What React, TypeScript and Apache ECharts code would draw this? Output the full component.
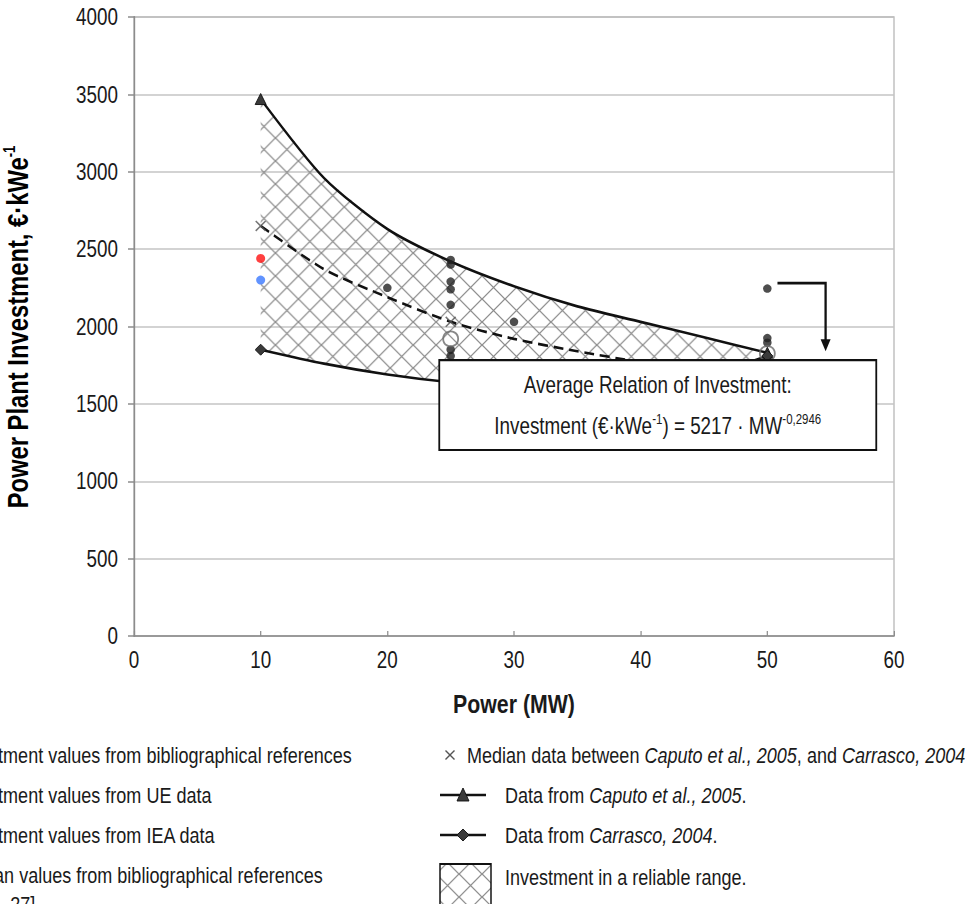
import { useEffect, useRef } from "react";
import * as echarts from "echarts";

// Text is set in Liberation Sans and the drawing is compressed horizontally so
// that it reads like a narrow grotesque; layout is done in the wider space.
const PAGE_W = 978;
const PAGE_H = 904;
const VIRTUAL_W = 1193;
const K = PAGE_W / VIRTUAL_W;
const V = (x: number) => x / K;

const FONT = "'Liberation Sans', Arial, sans-serif";
const INK = "#1a1a1a";

// Axis ranges
const powerMin = 0;
const powerMax = 60;
const powerStep = 10;
const investMin = 0;
const investMax = 4000;
const investStep = 500;

// Boundaries of the reliable range and the median trend (€·kWe-1 against MW)
const powerSteps = [10, 15, 20, 25, 30, 35, 40, 45, 50];
const caputoInvestment = [3470, 2960, 2630, 2420, 2260, 2130, 2030, 1930, 1830];
const carrascoInvestment = [1850, 1760, 1690, 1640, 1610, 1600, 1620, 1680, 1810];
const medianCurveInvestment = [2650, 2370, 2190, 2030, 1920, 1840, 1770, 1710, 1650];

// Median data between Caputo and Carrasco
const medianPower = [10, 25, 50];
const medianInvestment = [2650, 2030, 1650];

// Investment values from bibliographical references
const bibPower = [20, 25, 25, 25, 25, 25, 25, 25, 30, 50, 50, 50];
const bibInvestment = [2250, 2430, 2400, 2290, 2240, 2140, 1850, 1810, 2030, 2245, 1925, 1895];

// UE and IEA values
const uePower = [10];
const ueInvestment = [2440];
const ieaPower = [10];
const ieaInvestment = [2300];

// Median values from bibliographical references
const meanPower = [25, 50];
const meanInvestment = [1920, 1825];

const leftLegendLabels = [
  "Investment values from bibliographical references",
  "Investment values from UE data",
  "Investment values from IEA data",
  "Median values from bibliographical references",
];
const leftLegendTail = "[7, 14, 27]";

const TILE_W = 28;
const TILE_H = 23;
const hatchTile = `<svg xmlns="http://www.w3.org/2000/svg" width="${TILE_W}" height="${TILE_H}"><path d="M-1 -1L${TILE_W + 1} ${TILE_H + 1}M${TILE_W + 1} -1L-1 ${TILE_H + 1}" stroke="#8c8c8c" stroke-width="1.3" fill="none"/></svg>`;
const hatchFill = {
  image: "data:image/svg+xml;charset=utf-8," + encodeURIComponent(hatchTile),
  repeat: "repeat",
  imageWidth: TILE_W,
  imageHeight: TILE_H,
};

const pairs = (xs: number[], ys: number[]) => xs.map((x, i) => [x, ys[i]]);
const sym = (s: number) => [V(s), s];

const crossSymbol =
  "path://M1,0 L5,4 L9,0 L10,1 L6,5 L10,9 L9,10 L5,6 L1,10 L0,9 L4,5 L0,1 Z";

function buildOption() {
  const last = powerSteps.length - 1;
  return {
    animation: false,
    backgroundColor: "#ffffff",
    textStyle: { fontFamily: FONT },
    grid: {
      left: V(134),
      right: V(84),
      top: 17,
      bottom: PAGE_H - 636,
      show: true,
      borderColor: "#a8a8a8",
      borderWidth: 1.3,
    },
    xAxis: {
      type: "value",
      min: powerMin,
      max: powerMax,
      interval: powerStep,
      name: "Power (MW)",
      nameLocation: "middle",
      nameGap: 55,
      nameTextStyle: { fontFamily: FONT, fontSize: 26, fontWeight: "bold", color: INK },
      axisLine: { show: true, onZero: false, lineStyle: { color: "#8c8c8c", width: 1.5 } },
      axisTick: { show: true, inside: true, length: 5, lineStyle: { color: "#8c8c8c", width: 1.5 } },
      axisLabel: { fontFamily: FONT, fontSize: 23, color: INK, margin: 12 },
      splitLine: { show: false },
    },
    yAxis: {
      type: "value",
      min: investMin,
      max: investMax,
      interval: investStep,
      axisLine: { show: true, lineStyle: { color: "#8c8c8c", width: 1.8 } },
      axisTick: { show: true, inside: false, length: V(6), lineStyle: { color: "#8c8c8c", width: 1.5 } },
      axisLabel: {
        fontFamily: FONT,
        fontSize: 23,
        color: INK,
        margin: V(16),
        formatter: (v: number) => String(v),
      },
      splitLine: { show: true, lineStyle: { color: "#c4c4c4", width: 1.5 } },
    },
    series: [
      {
        type: "custom",
        name: "Investment in a reliable range.",
        z: 1,
        silent: true,
        data: powerSteps.map((x, i) => [x, carrascoInvestment[i], caputoInvestment[i]]),
        encode: { x: 0, y: [1, 2] },
        renderItem: (params: any, api: any) => {
          if (params.dataIndex !== 0) return null;
          const top = powerSteps.map((x, i) => api.coord([x, caputoInvestment[i]]));
          const bottom = powerSteps.map((x, i) => api.coord([x, carrascoInvestment[i]])).reverse();
          return {
            type: "polygon",
            shape: { points: top.concat(bottom) },
            style: { fill: hatchFill, stroke: null },
          };
        },
      },
      {
        type: "line",
        name: "Data from Caputo et al., 2005.",
        z: 3,
        smooth: 0.25,
        data: powerSteps.map((x, i) => ({
          value: [x, caputoInvestment[i]],
          symbol: i === 0 || i === last ? "triangle" : "none",
        })),
        symbolSize: sym(11),
        showAllSymbol: true,
        lineStyle: { color: "#111111", width: 2.6 },
        itemStyle: { color: "#3a3a3a", borderColor: "#111111", borderWidth: 1 },
      },
      {
        type: "line",
        name: "Data from Carrasco, 2004.",
        z: 3,
        smooth: 0.25,
        data: powerSteps.map((x, i) => ({
          value: [x, carrascoInvestment[i]],
          symbol: i === 0 || i === last ? "diamond" : "none",
        })),
        symbolSize: sym(11),
        showAllSymbol: true,
        lineStyle: { color: "#111111", width: 2.6 },
        itemStyle: { color: "#3a3a3a", borderColor: "#111111", borderWidth: 1 },
      },
      {
        type: "line",
        name: "Median trend",
        z: 3,
        smooth: 0.25,
        symbol: "none",
        data: pairs(powerSteps, medianCurveInvestment),
        lineStyle: { color: "#111111", width: 2.6, type: [12, 7] },
      },
      {
        type: "scatter",
        name: "Median data",
        z: 4,
        symbol: crossSymbol,
        symbolSize: sym(11),
        data: pairs(medianPower, medianInvestment),
        itemStyle: { color: "#555555" },
      },
      {
        type: "scatter",
        name: "Investment values from bibliographical references",
        z: 4,
        symbolSize: sym(8.5),
        data: pairs(bibPower, bibInvestment),
        itemStyle: { color: "#222222" },
      },
      {
        type: "scatter",
        name: "Investment values from UE data",
        z: 4,
        symbolSize: sym(9),
        data: pairs(uePower, ueInvestment),
        itemStyle: { color: "#ff1010" },
      },
      {
        type: "scatter",
        name: "Investment values from IEA data",
        z: 4,
        symbolSize: sym(9),
        data: pairs(ieaPower, ieaInvestment),
        itemStyle: { color: "#3a78ff" },
      },
      {
        type: "scatter",
        name: "Median values from bibliographical references",
        z: 4,
        symbolSize: sym(15),
        data: pairs(meanPower, meanInvestment),
        itemStyle: { color: "rgba(255,255,255,0)", borderColor: "#6a6a6a", borderWidth: 2 },
      },
    ],
  };
}

function textEl(x: number, y: number, text: string, size: number, extra: any = {}) {
  return {
    type: "text",
    x,
    y,
    z: 50,
    silent: true,
    style: {
      text,
      fill: INK,
      font: `${size}px ${FONT}`,
      fontFamily: FONT,
      fontSize: size,
      align: "left",
      textAlign: "left",
      verticalAlign: "middle",
      textVerticalAlign: "middle",
      ...extra,
    },
  };
}

const LEGEND_SIZE = 22;
const legendRich = {
  n: { fontFamily: FONT, fontSize: LEGEND_SIZE, color: INK },
  i: { fontFamily: FONT, fontSize: LEGEND_SIZE, color: INK, fontStyle: "italic" },
};

function buildGraphics(chart: any) {
  const px = (x: number, y: number) => chart.convertToPixel({ gridIndex: 0 }, [x, y]);
  const [bx0, by0] = px(24.1, 1783);
  const [bx1, by1] = px(58.6, 1202);
  const [ax0, ay0] = px(50.8, 2280);
  const [ax1] = px(54.6, 2280);
  const [, ay1] = px(54.6, 1840);
  const cx = (bx0 + bx1) / 2;

  const els: any[] = [];

  // vertical axis title
  els.push({
    type: "text",
    x: V(18),
    y: 327,
    rotation: Math.PI / 2,
    scaleX: K,
    scaleY: 1 / K,
    z: 50,
    silent: true,
    style: {
      text: "{t|Power Plant Investment, €·kWe}{s|-1}",
      align: "center",
      textAlign: "center",
      verticalAlign: "middle",
      textVerticalAlign: "middle",
      rich: {
        t: { fontFamily: FONT, fontSize: 29, fontWeight: "bold", color: INK, lineHeight: 32 },
        s: { fontFamily: FONT, fontSize: 16, fontWeight: "bold", color: INK, lineHeight: 32, verticalAlign: "top" },
      },
    },
  });

  // equation box
  els.push({
    type: "rect",
    z: 40,
    silent: true,
    shape: { x: bx0, y: by0, width: bx1 - bx0, height: by1 - by0 },
    style: { fill: "#ffffff", stroke: "#111111", lineWidth: 2.2 },
  });
  els.push(
    textEl(cx, by0 + 25, "Average Relation of Investment:", 23, { align: "center", textAlign: "center" })
  );
  els.push(
    textEl(cx, by0 + 66, "{n|Investment (€·kWe}{s|-1}{n|) = 5217 · MW}{s|-0,2946}", 23, {
      align: "center",
      textAlign: "center",
      rich: {
        n: { fontFamily: FONT, fontSize: 23, color: INK, lineHeight: 28 },
        s: { fontFamily: FONT, fontSize: 14, color: INK, lineHeight: 28, verticalAlign: "top" },
      },
    })
  );

  // arrow pointing at the box
  els.push({
    type: "polyline",
    z: 40,
    silent: true,
    shape: { points: [[ax0, ay0], [ax1, ay0], [ax1, ay1 - 9]] },
    style: { stroke: "#111111", lineWidth: 2.8, fill: null },
  });
  els.push({
    type: "polygon",
    z: 40,
    silent: true,
    shape: { points: [[ax1 - V(5), ay1 - 12], [ax1 + V(5), ay1 - 12], [ax1, ay1]] },
    style: { fill: "#111111" },
  });

  // left legend column
  const rows = [755, 795, 835, 875];
  leftLegendLabels.forEach((label, i) => {
    els.push(textEl(V(-45), rows[i], label, LEGEND_SIZE));
  });
  els.push(textEl(V(-45), 904, leftLegendTail, LEGEND_SIZE));

  // right legend column
  els.push({
    type: "path" === "x" ? "text" : "polygon",
    z: 50,
    silent: true,
    shape: {
      points: [
        [0, 1], [1, 0], [5, 4], [9, 0], [10, 1], [6, 5], [10, 9], [9, 10], [5, 6], [1, 10], [0, 9], [4, 5],
      ].map(([x, y]) => [V(445 + x), rows[0] - 5 + y]),
    },
    style: { fill: "#555555" },
  });
  els.push(
    textEl(V(467), rows[0], "{n|Median data between }{i|Caputo et al., 2005}{n|, and }{i|Carrasco, 2004}", LEGEND_SIZE, {
      rich: legendRich,
    })
  );

  const lx0 = V(440);
  const lx1 = V(486);
  const lm = (lx0 + lx1) / 2;
  els.push({
    type: "line",
    z: 50,
    silent: true,
    shape: { x1: lx0, y1: rows[1], x2: lx1, y2: rows[1] },
    style: { stroke: "#111111", lineWidth: 2.6 },
  });
  els.push({
    type: "polygon",
    z: 51,
    silent: true,
    shape: { points: [[lm - V(6), rows[1] + 6], [lm + V(6), rows[1] + 6], [lm, rows[1] - 7]] },
    style: { fill: "#3a3a3a", stroke: "#111111", lineWidth: 1 },
  });
  els.push(textEl(V(505), rows[1], "{n|Data from }{i|Caputo et al., 2005}{n|.}", LEGEND_SIZE, { rich: legendRich }));

  els.push({
    type: "line",
    z: 50,
    silent: true,
    shape: { x1: lx0, y1: rows[2], x2: lx1, y2: rows[2] },
    style: { stroke: "#111111", lineWidth: 2.6 },
  });
  els.push({
    type: "polygon",
    z: 51,
    silent: true,
    shape: {
      points: [[lm - V(6), rows[2]], [lm, rows[2] - 6], [lm + V(6), rows[2]], [lm, rows[2] + 6]],
    },
    style: { fill: "#3a3a3a", stroke: "#111111", lineWidth: 1 },
  });
  els.push(textEl(V(505), rows[2], "{n|Data from }{i|Carrasco, 2004}{n|.}", LEGEND_SIZE, { rich: legendRich }));

  els.push({
    type: "rect",
    z: 50,
    silent: true,
    shape: { x: V(440), y: 864, width: V(51), height: 60 },
    style: { fill: hatchFill, stroke: "#111111", lineWidth: 1.8 },
  });
  els.push(textEl(V(505), 877, "Investment in a reliable range.", LEGEND_SIZE));

  return els;
}

export default function App() {
  const ref = useRef<HTMLDivElement>(null);

  useEffect(() => {
    const el = ref.current;
    if (!el) return;
    const chart = echarts.init(el, null, { renderer: "svg" });
    chart.setOption(buildOption() as any);
    chart.setOption({ graphic: { elements: buildGraphics(chart) } } as any);
    return () => chart.dispose();
  }, []);

  return (
    <div
      style={{
        position: "fixed",
        left: 0,
        top: 0,
        width: PAGE_W,
        height: PAGE_H,
        overflow: "hidden",
        background: "#ffffff",
      }}
    >
      <div
        ref={ref}
        style={{
          width: VIRTUAL_W,
          height: PAGE_H,
          transform: `scaleX(${K})`,
          transformOrigin: "0 0",
        }}
      />
    </div>
  );
}
